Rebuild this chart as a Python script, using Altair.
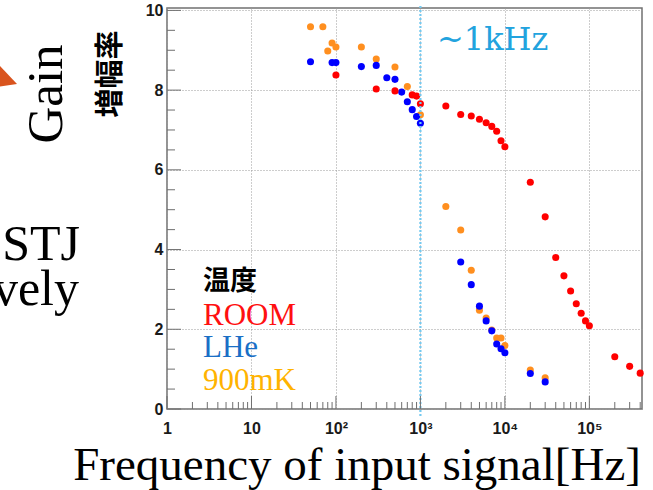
import altair as alt
import pandas as pd

# Gain (増幅率) versus input frequency, one pair of lists per temperature
room_freq = [100, 300, 500, 800, 900, 1000, 2000, 3000, 4000, 5000, 6000, 7000,
             8000, 9000, 10000, 20000, 30000, 40000, 50000, 60000, 70000, 80000,
             90000, 100000, 200000, 300000, 400000]
room_gain = [8.38, 8.03, 7.98, 7.88, 7.85, 7.66, 7.60, 7.39, 7.35, 7.27, 7.18, 7.09,
             6.97, 6.73, 6.58, 5.69, 4.82, 3.80, 3.34, 2.96, 2.64, 2.40,
             2.21, 2.09, 1.31, 1.07, 0.90]

lhe_freq = [50, 90, 100, 200, 300, 400, 500, 600, 700, 800, 900, 1000,
            3000, 4000, 5000, 6000, 7000, 8000, 9000, 10000, 20000, 30000]
lhe_gain = [8.71, 8.69, 8.69, 8.59, 8.62, 8.31, 8.27, 7.95, 7.71, 7.51, 7.34, 7.17,
            3.69, 3.12, 2.58, 2.21, 1.96, 1.63, 1.51, 1.41, 0.89, 0.68]

mk_freq = [50, 70, 80, 90, 100, 200, 300, 500, 700, 1000,
           2000, 3000, 4000, 5000, 6000, 7000, 8000, 9000, 10000, 20000, 30000]
mk_gain = [9.59, 9.59, 8.98, 9.18, 9.08, 9.08, 8.78, 8.58, 8.09, 7.38,
           5.08, 4.49, 3.48, 2.48, 2.28, 1.98, 1.78, 1.78, 1.59, 0.98, 0.78]

series_names = ["900mK", "LHe", "ROOM"]
point_colors = ["#ff8f1f", "#0000ff", "#ff0000"]
legend_colors = ["#ffb300", "#1a6fc6", "#ff1010"]

x_major = [1, 10, 100, 1000, 10000, 100000]
x_labels = ["1", "10", "10²", "10³", "10⁴", "10⁵"]
y_major = [0, 2, 4, 6, 8, 10]
cutoff_freq = [1000]

W, H = 475, 401
X_DOMAIN = [1, 420000]
Y_DOMAIN = [0, 10.06]

rows = []
for name, fs, gs in [("900mK", mk_freq, mk_gain), ("LHe", lhe_freq, lhe_gain),
                     ("ROOM", room_freq, room_gain)]:
    for f, g in zip(fs, gs):
        rows.append({"freq": f, "gain": g, "temp": name, "order": series_names.index(name)})
points_df = pd.DataFrame(rows)

xscale = alt.Scale(type="log", domain=X_DOMAIN, nice=False)
yscale = alt.Scale(domain=Y_DOMAIN, nice=False, zero=False)

label_lookup = "{" + ",".join(f"'{v}':'{t}'" for v, t in zip(x_major, x_labels)) + "}"

x_axis = alt.Axis(values=x_major, labelExpr=f"{label_lookup}[datum.value]",
                  grid=True, gridColor="#9a9a9a", gridDash=[1, 2], gridWidth=1,
                  ticks=False, domain=False, labelFlush=False, labelOverlap=False,
                  labelFont="Liberation Sans", labelFontWeight="bold",
                  labelFontSize=16, labelColor="#1a1a1a", labelPadding=11, title=None)
y_axis = alt.Axis(values=y_major, grid=True, gridColor="#9a9a9a", gridDash=[1, 2],
                  gridWidth=1, ticks=False, domain=False, labelFlush=False,
                  labelOverlap=False,
                  labelFont="Liberation Sans", labelFontWeight="bold",
                  labelFontSize=16, labelColor="#1a1a1a", labelPadding=4, title=None)

points = alt.Chart(points_df).mark_circle(size=50, opacity=1).encode(
    x=alt.X("freq:Q", scale=xscale, axis=x_axis),
    y=alt.Y("gain:Q", scale=yscale, axis=y_axis),
    color=alt.Color("temp:N", scale=alt.Scale(domain=series_names, range=point_colors),
                    legend=None),
    order="order:Q",
)

# Inward-pointing tick marks along the left and bottom edges
y_ticks_major = [v for v in [i * 0.5 for i in range(21)] if v % 2 == 0]
y_ticks_minor = [v for v in [i * 0.5 for i in range(21)] if v % 2 != 0]
x_ticks_minor = [m * 10 ** k for k in range(6) for m in range(2, 10) if m * 10 ** k <= X_DOMAIN[1]]

tick_color = "#6f6f6f"
ytm = alt.Chart(pd.DataFrame({"v": y_ticks_major})).mark_rule(color=tick_color, strokeWidth=1).encode(
    y=alt.Y("v:Q", scale=yscale, axis=y_axis), x=alt.value(0), x2=alt.value(14))
ytn = alt.Chart(pd.DataFrame({"v": y_ticks_minor})).mark_rule(color=tick_color, strokeWidth=1).encode(
    y=alt.Y("v:Q", scale=yscale, axis=y_axis), x=alt.value(0), x2=alt.value(8))
xtm = alt.Chart(pd.DataFrame({"v": x_major})).mark_rule(color=tick_color, strokeWidth=1).encode(
    x=alt.X("v:Q", scale=xscale, axis=x_axis), y=alt.value(H), y2=alt.value(H - 13))
xtn = alt.Chart(pd.DataFrame({"v": x_ticks_minor})).mark_rule(color=tick_color, strokeWidth=1).encode(
    x=alt.X("v:Q", scale=xscale, axis=x_axis), y=alt.value(H), y2=alt.value(H - 7))

# ~1kHz marker line
cutoff = alt.Chart(pd.DataFrame({"f": cutoff_freq})).mark_rule(
    color="#74c9f0", strokeWidth=2.2, strokeDash=[2, 2]).encode(
    x=alt.X("f:Q", scale=xscale, axis=x_axis), y=alt.value(-2), y2=alt.value(H + 7))


def label(text, x, y, size, color="black", font="Liberation Serif", weight="normal",
          align="left", baseline="alphabetic", angle=0):
    return alt.Chart(pd.DataFrame({"t": [text]})).mark_text(
        font=font, fontSize=size, fontWeight=weight, color=color, align=align,
        baseline=baseline, angle=angle).encode(
        text="t:N", x=alt.value(x), y=alt.value(y))


texts = [
    label("~1kHz", 270, 42, 32, color="#22a3de", font="DejaVu Serif"),
    label("温度", 36, 282, 27, font="Noto Sans CJK JP", weight="bold"),
    label("ROOM", 36, 317, 31, color=legend_colors[2]),
    label("LHe", 36, 349, 31, color=legend_colors[1]),
    label("900mK", 36, 382, 31, color=legend_colors[0]),
    label("増幅率", -56, 66, 29, font="Noto Sans CJK JP", weight="bold",
          align="center", baseline="middle", angle=270),
    label("Gain", -105, 86, 51, align="center", angle=270),
    label("STJ", -87, 252, 50, align="right"),
    label("vely", -88, 297, 50, align="right"),
    label("Frequency of input signal[Hz]", 190, 472, 47, align="center"),
]

arrow = alt.Chart(pd.DataFrame({"t": ["arrow"]})).mark_point(
    shape="M-9,-9.5 L17,18 L-9,22 Z", size=4, filled=True, opacity=1,
    color="#d9541e", strokeWidth=0).encode(x=alt.value(-167), y=alt.value(58))

chart = alt.layer(points, cutoff, ytm, ytn, xtm, xtn, arrow, *texts).properties(
    width=W, height=H, autosize="none",
    padding={"left": 167, "top": 8, "right": 11, "bottom": 81},
    background="white",
).configure_view(stroke="#707070", strokeWidth=1.5)

chart.save("out.html", embed_options={"renderer": "svg", "actions": False})
